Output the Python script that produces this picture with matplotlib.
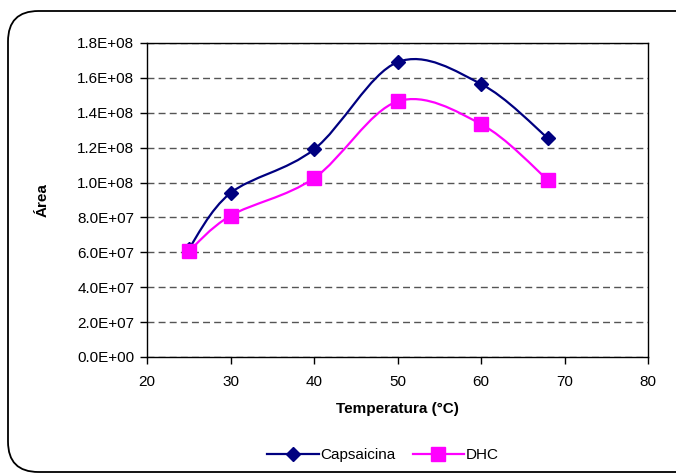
import matplotlib
matplotlib.use('Agg')
import matplotlib.pyplot as plt
from matplotlib.path import Path
from matplotlib.patches import PathPatch, FancyBboxPatch
from matplotlib.lines import Line2D
from matplotlib.ticker import FuncFormatter

plt.rcParams['font.family'] = ['Liberation Sans', 'DejaVu Sans']

# data
temperatura = [25, 30, 40, 50, 60, 68]
capsaicina = [6.2e7, 9.4e7, 1.19e8, 1.69e8, 1.565e8, 1.255e8]
dhc = [6.05e7, 8.1e7, 1.025e8, 1.465e8, 1.335e8, 1.015e8]

NAVY = '#000080'
MAGENTA = '#FF00FF'


def smooth_path(xs, ys):
    # excel style smoothed line: cubic bezier, catmull-rom control points
    pts = list(zip(xs, ys))
    n = len(pts)
    verts = [pts[0]]
    codes = [Path.MOVETO]
    for i in range(n - 1):
        p0 = pts[i - 1] if i > 0 else pts[i]
        p1 = pts[i]
        p2 = pts[i + 1]
        p3 = pts[i + 2] if i + 2 < n else pts[i + 1]
        c1 = (p1[0] + (p2[0] - p0[0]) / 6, p1[1] + (p2[1] - p0[1]) / 6)
        c2 = (p2[0] - (p3[0] - p1[0]) / 6, p2[1] - (p3[1] - p1[1]) / 6)
        verts += [c1, c2, p2]
        codes += [Path.CURVE4] * 3
    return Path(verts, codes)


fig = plt.figure(figsize=(6.76, 4.76), dpi=100)
fig.patch.set_facecolor('white')

# rounded chart border (runs off the right edge like the original)
box = FancyBboxPatch((8 / 676, 4 / 476), 700 / 676, 461 / 476,
                     boxstyle='round,pad=0,rounding_size=0.045',
                     transform=fig.transFigure, fill=False,
                     edgecolor='black', lw=1.3, mutation_aspect=676 / 476)
fig.patches.append(box)

ax = fig.add_axes([147 / 676, 119 / 476, 501 / 676, 314 / 476])

for ys, col in [(capsaicina, NAVY), (dhc, MAGENTA)]:
    ax.add_patch(PathPatch(smooth_path(temperatura, ys), fill=False,
                           edgecolor=col, lw=1.6, zorder=3))

ax.plot(temperatura, capsaicina, linestyle='none', marker='D', ms=7.5,
        color=NAVY, zorder=4)
ax.plot(temperatura, dhc, linestyle='none', marker='s', ms=10.5,
        color=MAGENTA, zorder=5)

ax.set_xlim(20, 80)
ax.set_ylim(0, 1.8e8)
ax.set_xticks(range(20, 81, 10))
ax.set_yticks([i * 2e7 for i in range(10)])
ax.yaxis.set_major_formatter(FuncFormatter(lambda v, p: '%.1E' % v))

ax.grid(axis='y', linestyle=(0, (5, 3)), color='#555555', lw=1)
ax.set_axisbelow(True)
for s in ax.spines.values():
    s.set_color('black')
    s.set_linewidth(1)
ax.tick_params(axis='both', direction='out', length=5, width=1,
               labelsize=11, colors='black')
ax.tick_params(axis='y', pad=4)
ax.tick_params(axis='x', pad=8)

ax.set_xlabel('Temperatura (°C)', fontsize=11, fontweight='bold', labelpad=9)
ax.set_ylabel('Área', fontsize=11, fontweight='bold', labelpad=20)

handles = [Line2D([], [], color=NAVY, lw=1.6, marker='D', ms=7.5),
           Line2D([], [], color=MAGENTA, lw=1.6, marker='s', ms=10.5)]
fig.legend(handles, ['Capsaicina', 'DHC'], loc='center',
           bbox_to_anchor=(383 / 676, 21 / 476), ncol=2, frameon=False,
           fontsize=11, handlelength=3.4, handletextpad=0.1,
           columnspacing=1.1)

fig.savefig('out.png', dpi=100)
